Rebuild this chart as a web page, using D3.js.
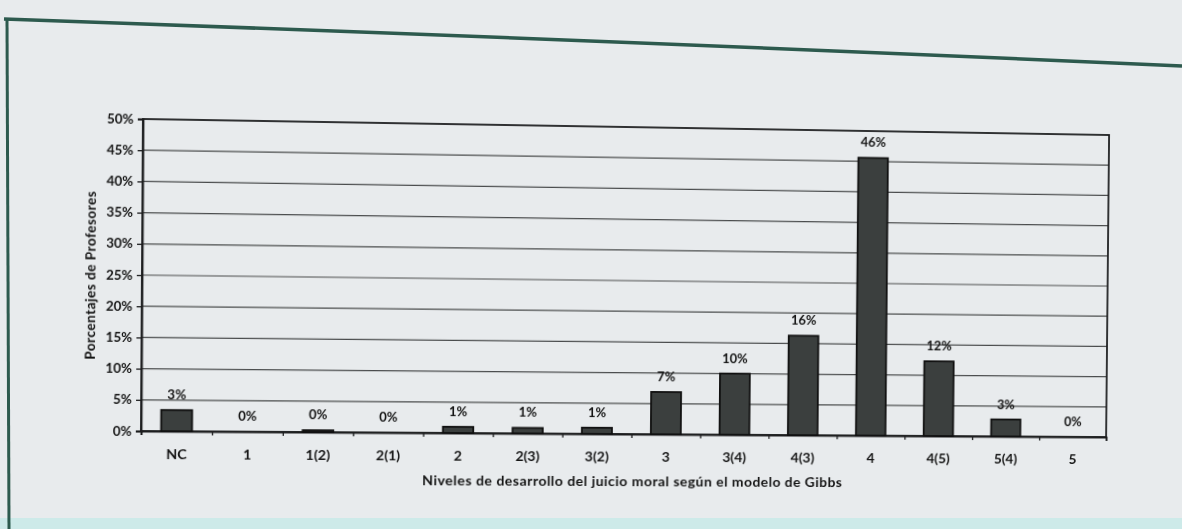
<!DOCTYPE html>
<html>
<head>
<meta charset="utf-8">
<script src="https://cdn.jsdelivr.net/npm/d3@7"></script>
<style>
  html, body { margin: 0; padding: 0; background: #e8ebed; }
  #page { position: relative; width: 1182px; height: 529px; overflow: hidden; background: #e8ebed; }
  #page svg { position: absolute; left: 0; top: 0; }
  #chart { transform-origin: 0 0; }
  text { font-family: Lato, "Open Sans", sans-serif; fill: #141414; }
</style>
</head>
<body>
<div id="page">
  <svg id="frame" width="1182" height="529"></svg>
  <svg id="chart" width="1182" height="529"></svg>
</div>
<script>
// Moral-judgement stage of each teacher (Gibbs model), share of teachers in %
const categories = ["NC", "1", "1(2)", "2(1)", "2", "2(3)", "3(2)", "3", "3(4)", "4(3)", "4", "4(5)", "5(4)", "5"];
const percentages = [3.4, 0, 0.3, 0, 1.0, 0.9, 1.0, 6.9, 10.0, 16.3, 45.6, 12.3, 2.8, 0];
const yTicks = [0, 5, 10, 15, 20, 25, 30, 35, 40, 45, 50];
const xTitle = "Niveles de desarrollo del juicio moral según el modelo de Gibbs";
const yTitle = "Porcentajes de Profesores";

const W = 1182, H = 529;
const plot = { left: 142, right: 1107, top: 119, bottom: 431 };

// ---- page frame (printed box rule) ----
const frame = d3.select("#frame");
frame.append("rect").attr("x", 0).attr("y", 518).attr("width", W).attr("height", 11)
  .attr("fill", "#cdeae9");
frame.append("path")
  .attr("d", "M4,19 Q600,40 1182,66")
  .attr("fill", "none").attr("stroke", "#2d5a4e").attr("stroke-width", 3.5);
frame.append("path")
  .attr("d", "M7,18 L9,529")
  .attr("fill", "none").attr("stroke", "#2d5a4e").attr("stroke-width", 3);

// ---- chart ----
const svg = d3.select("#chart");

const x = d3.scaleBand()
  .domain(categories)
  .range([plot.left, plot.right])
  .paddingInner(0.565)
  .paddingOuter(0.2825);

const xEdge = d3.scaleLinear()
  .domain([0, categories.length])
  .range([plot.left, plot.right]);

const y = d3.scaleLinear()
  .domain([0, 50])
  .range([plot.bottom, plot.top]);

// horizontal gridlines
svg.append("g")
  .selectAll("line")
  .data(yTicks.filter(t => t > 0 && t < 50))
  .join("line")
  .attr("x1", plot.left).attr("x2", plot.right)
  .attr("y1", d => y(d)).attr("y2", d => y(d))
  .attr("stroke", "#4a4c4d").attr("stroke-width", 1.2);

// plot border
svg.append("rect")
  .attr("x", plot.left).attr("y", plot.top)
  .attr("width", plot.right - plot.left).attr("height", plot.bottom - plot.top)
  .attr("fill", "none").attr("stroke", "#1c1d1e").attr("stroke-width", 1.8);

// y axis
const yAxis = svg.append("g")
  .attr("transform", `translate(${plot.left},0)`)
  .call(d3.axisLeft(y).tickValues(yTicks).tickSize(5).tickPadding(4).tickFormat(d => d + "%"));
yAxis.select(".domain").attr("stroke", "#1c1d1e").attr("stroke-width", 1.8);
yAxis.selectAll(".tick line").attr("stroke", "#1c1d1e").attr("stroke-width", 1.3);
yAxis.selectAll(".tick text").attr("font-size", 13).attr("font-weight", 700)
  .attr("font-family", "Lato, sans-serif").attr("fill", "#1a1a1a");

// x axis: boundary tick marks between categories
const xTicks = svg.append("g")
  .attr("transform", `translate(0,${plot.bottom})`)
  .call(d3.axisBottom(xEdge).tickValues(d3.range(categories.length + 1)).tickSize(4).tickFormat(""));
xTicks.select(".domain").attr("stroke", "#1c1d1e").attr("stroke-width", 1.8);
xTicks.selectAll(".tick line").attr("stroke", "#1c1d1e").attr("stroke-width", 1.3);

// x axis: category labels
const xAxis = svg.append("g")
  .attr("transform", `translate(0,${plot.bottom})`)
  .call(d3.axisBottom(x).tickSize(0).tickPadding(18));
xAxis.select(".domain").remove();
xAxis.selectAll(".tick text").attr("font-size", 14).attr("font-weight", 700)
  .attr("font-family", "Lato, sans-serif").attr("fill", "#1a1a1a");

// bars
svg.append("g")
  .selectAll("rect")
  .data(categories.map((c, i) => ({ c, v: percentages[i] })))
  .join("rect")
  .attr("x", d => x(d.c))
  .attr("width", x.bandwidth())
  .attr("y", d => y(d.v))
  .attr("height", d => y(0) - y(d.v))
  .attr("fill", "#3b3f3e")
  .attr("stroke", "#101010")
  .attr("stroke-width", d => d.v > 0 ? 1.8 : 0);

// value labels
svg.append("g")
  .selectAll("text")
  .data(categories.map((c, i) => ({ c, v: percentages[i] })))
  .join("text")
  .attr("x", d => x(d.c) + x.bandwidth() / 2)
  .attr("y", d => y(d.v) - 11)
  .attr("text-anchor", "middle")
  .attr("font-size", 13)
  .attr("font-weight", 700)
  .text(d => Math.round(d.v) + "%");

// axis titles
svg.append("text")
  .attr("x", 627).attr("y", 484)
  .attr("text-anchor", "middle")
  .attr("font-size", 14)
  .attr("font-weight", 700)
  .attr("textLength", 420).attr("lengthAdjust", "spacing")
  .text(xTitle);

svg.append("text")
  .attr("transform", "translate(97,276) rotate(-90)")
  .attr("text-anchor", "middle")
  .attr("font-size", 13.5)
  .attr("font-weight", 700)
  .attr("textLength", 168).attr("lengthAdjust", "spacing")
  .text(yTitle);

// ---- slight perspective of the printed page ----
function homography(src, dst) {
  const A = [], b = [];
  for (let i = 0; i < 4; i++) {
    const [sx, sy] = src[i], [u, v] = dst[i];
    A.push([sx, sy, 1, 0, 0, 0, -u * sx, -u * sy]); b.push(u);
    A.push([0, 0, 0, sx, sy, 1, -v * sx, -v * sy]); b.push(v);
  }
  const n = 8;
  for (let c = 0; c < n; c++) {
    let p = c;
    for (let r = c + 1; r < n; r++) if (Math.abs(A[r][c]) > Math.abs(A[p][c])) p = r;
    [A[c], A[p]] = [A[p], A[c]]; [b[c], b[p]] = [b[p], b[c]];
    for (let r = 0; r < n; r++) {
      if (r === c) continue;
      const f = A[r][c] / A[c][c];
      for (let k = c; k < n; k++) A[r][k] -= f * A[c][k];
      b[r] -= f * b[c];
    }
  }
  return b.map((val, i) => val / A[i][i]);
}

const h = homography(
  [[plot.left, plot.top], [plot.right, plot.top], [plot.right, plot.bottom], [plot.left, plot.bottom]],
  [[143, 119], [1109, 135], [1106, 437], [141, 431]]
);
document.getElementById("chart").style.transform =
  `matrix3d(${h[0]},${h[3]},0,${h[6]},${h[1]},${h[4]},0,${h[7]},0,0,1,0,${h[2]},${h[5]},0,1)`;
</script>
</body>
</html>
